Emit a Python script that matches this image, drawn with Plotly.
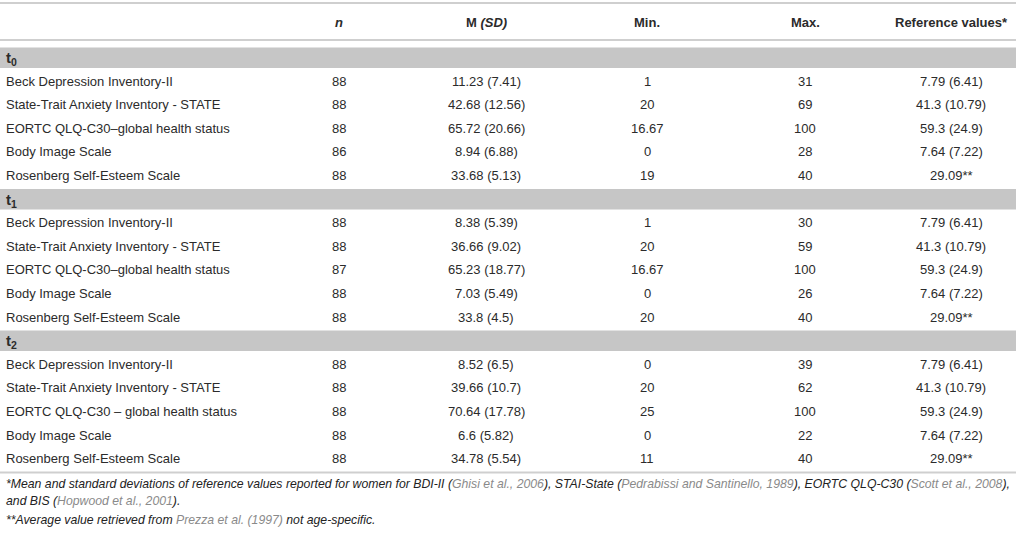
import plotly.graph_objects as go

# table content
measures = ["Beck Depression Inventory-II", "State-Trait Anxiety Inventory - STATE",
            "EORTC QLQ-C30–global health status", "Body Image Scale",
            "Rosenberg Self-Esteem Scale"]
measures_t2 = ["Beck Depression Inventory-II", "State-Trait Anxiety Inventory - STATE",
               "EORTC QLQ-C30 – global health status", "Body Image Scale",
               "Rosenberg Self-Esteem Scale"]
times = ["0", "1", "2"]

n_t0 = [88, 88, 88, 86, 88]
mean_t0 = [11.23, 42.68, 65.72, 8.94, 33.68]
sd_t0 = [7.41, 12.56, 20.66, 6.88, 5.13]
min_t0 = [1, 20, 16.67, 0, 19]
max_t0 = [31, 69, 100, 28, 40]

n_t1 = [88, 88, 87, 88, 88]
mean_t1 = [8.38, 36.66, 65.23, 7.03, 33.8]
sd_t1 = [5.39, 9.02, 18.77, 5.49, 4.5]
min_t1 = [1, 20, 16.67, 0, 20]
max_t1 = [30, 59, 100, 26, 40]

n_t2 = [88, 88, 88, 88, 88]
mean_t2 = [8.52, 39.66, 70.64, 6.6, 34.78]
sd_t2 = [6.5, 10.7, 17.78, 5.82, 5.54]
min_t2 = [0, 20, 25, 0, 11]
max_t2 = [39, 62, 100, 22, 40]

ref_mean = [7.79, 41.3, 59.3, 7.64, 29.09]
ref_sd = [6.41, 10.79, 24.9, 7.22, None]

headers = ["<b><i>n</i></b>", "<b>M <i>(SD)</i></b>", "<b>Min.</b>", "<b>Max.</b>",
           "<b>Reference values*</b>"]

W, H = 1016, 537
col_x = [4, 339, 486, 647, 805, 951]
row_h = 23.6
first_row = 57.4
txt = "#2b2b2b"
grey = "#8a8a8a"
band = "#c6c6c6"
rule = "#cfcfcf"
font = "Liberation Sans"


def fmt(v):
    return ("%g" % v)


def ms(m, s):
    return f"{fmt(m)} ({fmt(s)})"


blocks = [
    (measures, n_t0, mean_t0, sd_t0, min_t0, max_t0),
    (measures, n_t1, mean_t1, sd_t1, min_t1, max_t1),
    (measures_t2, n_t2, mean_t2, sd_t2, min_t2, max_t2),
]

ref_txt = [ms(m, s) if s is not None else f"{fmt(m)}**" for m, s in zip(ref_mean, ref_sd)]

fig = go.Figure()
ann = []
shapes = []


def add_text(x, y, s, anchor="center", size=13, color=txt):
    ann.append(dict(x=x, y=y, text=s, xanchor=anchor, yanchor="middle", showarrow=False,
                    font=dict(family=font, size=size, color=color)))


# header
for i, h in enumerate(headers):
    add_text(col_x[i + 1], 22, h)
shapes.append(dict(type="line", x0=0, x1=W, y0=3, y1=3, line=dict(color=rule, width=2)))
shapes.append(dict(type="line", x0=0, x1=W, y0=40, y1=40, line=dict(color=rule, width=2)))

r = 0
for t, (labels, n, m, s, mn, mx) in zip(times, blocks):
    y = first_row + r * row_h
    shapes.append(dict(type="rect", x0=0, x1=W, y0=y - 10, y1=y + 10.5,
                       fillcolor=band, line=dict(width=0), layer="below"))
    add_text(col_x[0], y + 1, f"<b>t<sub>{t}</sub></b>", anchor="left", size=15)
    r += 1
    for k in range(5):
        y = first_row + r * row_h
        add_text(col_x[0], y, labels[k], anchor="left")
        add_text(col_x[1], y, str(n[k]))
        add_text(col_x[2], y, ms(m[k], s[k]))
        add_text(col_x[3], y, fmt(mn[k]))
        add_text(col_x[4], y, fmt(mx[k]))
        add_text(col_x[5], y, ref_txt[k])
        r += 1

y_end = first_row + (r - 1) * row_h + 14
shapes.append(dict(type="line", x0=0, x1=W, y0=y_end, y1=y_end, line=dict(color=rule, width=2)))


# footnotes
def cite(s):
    return f"<span style='color:{grey}'>{s}</span>"


foot = [
    "*Mean and standard deviations of reference values reported for women for BDI-II ("
    + cite("Ghisi et al., 2006") + "), STAI-State (" + cite("Pedrabissi and Santinello, 1989")
    + "), EORTC QLQ-C30 (" + cite("Scott et al., 2008") + "),",
    "and BIS (" + cite("Hopwood et al., 2001") + ").",
    "**Average value retrieved from " + cite("Prezza et al. (1997)") + " not age-specific.",
]
foot_y = [484, 501, 520]
for s, y in zip(foot, foot_y):
    ann.append(dict(x=4, y=y, text=f"<i>{s}</i>", xanchor="left", yanchor="middle",
                    showarrow=False,
                    font=dict(family=font, size=12.25, color="#222222")))

fig.update_layout(
    width=W, height=H, margin=dict(l=0, r=0, t=0, b=0),
    paper_bgcolor="white", plot_bgcolor="white",
    xaxis=dict(range=[0, W], visible=False, fixedrange=True),
    yaxis=dict(range=[H, 0], visible=False, fixedrange=True),
    annotations=ann, shapes=shapes, showlegend=False,
)

fig.write_html("out.html", config={"displayModeBar": False},
               post_script="document.body.style.margin='0';")
